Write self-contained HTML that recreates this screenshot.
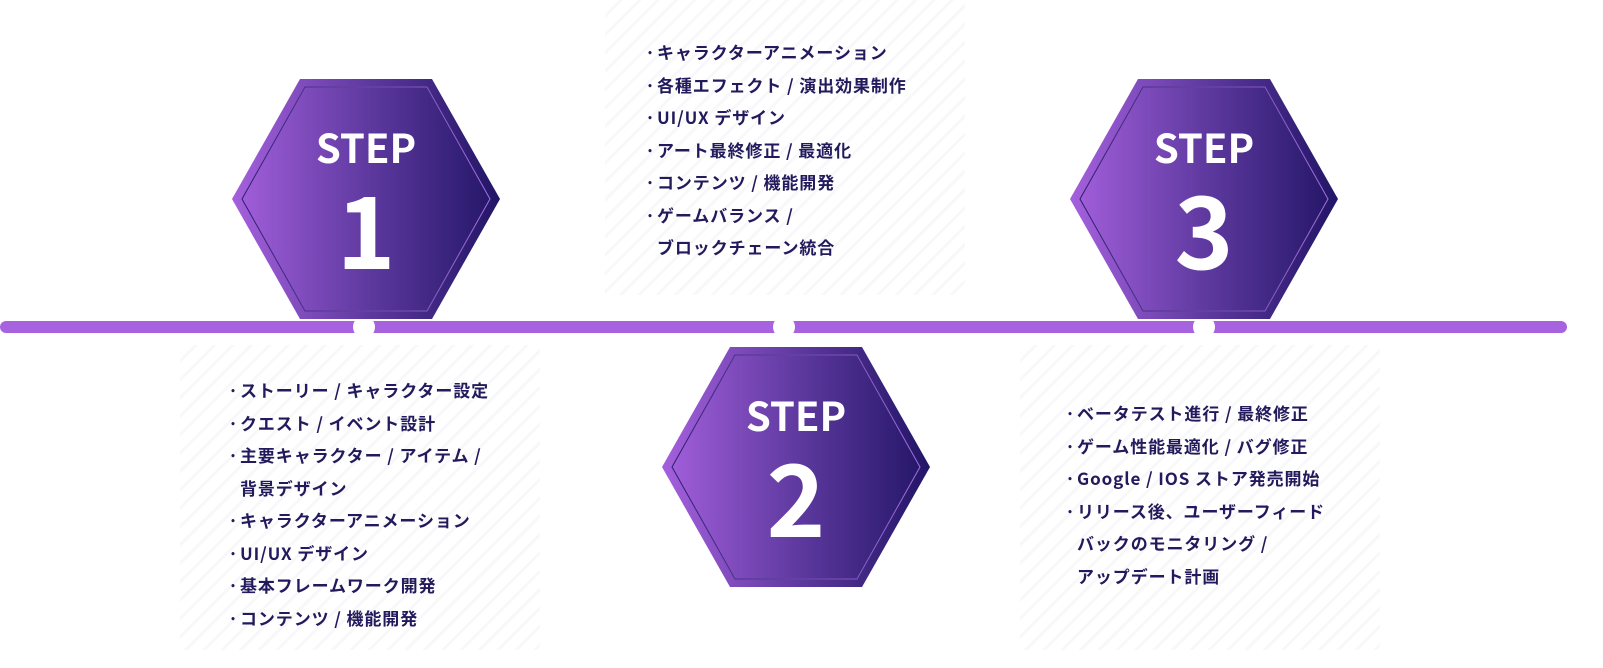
<!DOCTYPE html>
<html><head><meta charset="utf-8"><style>
body{margin:0;width:1603px;height:668px;background:#fff;position:relative;overflow:hidden;font-family:"Noto Sans CJK JP","Liberation Sans",sans-serif}
.pat{position:absolute;background:repeating-linear-gradient(135deg,#fff 0 10px,#f8f8fa 10px 13px)}
.bar{position:absolute;left:0;top:321px;width:1567px;height:12px;border-radius:6px;background:#a763df}
.dot{position:absolute;top:316px;width:22px;height:22px;border-radius:50%;background:#fff}
svg.hex{position:absolute;width:272px;height:242px}
.lbl{position:absolute;width:272px;text-align:center;color:#fff;font-weight:bold}
.step{font-size:40px;line-height:40px}
.num{font-size:100px;line-height:100px;margin-top:10px}
.txt{position:absolute;color:#221a5c;font-weight:bold;font-size:17px;letter-spacing:0.9px;line-height:32.5px;white-space:nowrap}
.txt div{padding-left:12px;text-indent:-12px}
.b{display:inline-block;width:12px;text-indent:0;letter-spacing:0}
</style></head><body>
<div class="pat" style="left:605px;top:0;width:360px;height:295px"></div>
<div class="pat" style="left:180px;top:345px;width:360px;height:305px"></div>
<div class="pat" style="left:1020px;top:345px;width:360px;height:305px"></div>
<svg width="0" height="0" style="position:absolute"><defs>
<linearGradient id="g" x1="0" x2="1" y1="0" y2="0"><stop offset="0" stop-color="#a560dd"/><stop offset="0.5" stop-color="#5f3aa0"/><stop offset="1" stop-color="#221566"/></linearGradient>
<linearGradient id="s" x1="0" x2="1"><stop offset="0" stop-color="#2a1b6a"/><stop offset="1" stop-color="#a770e0"/></linearGradient>
</defs></svg>
<div class="bar"></div>
<div class="dot" style="left:353px"></div><div class="dot" style="left:773px"></div><div class="dot" style="left:1193px"></div>

<svg class="hex" style="left:230px;top:78px" viewBox="0 0 272 242"><polygon points="70,1 202,1 270,121 202,241 70,241 2,121" fill="url(#g)"/><polygon points="75,9 197,9 260,121 197,233 75,233 12,121" fill="none" stroke="url(#s)" stroke-width="1"/></svg>
<div class="lbl" style="left:230px;top:126px"><div class="step">STEP</div><div class="num">1</div></div>

<svg class="hex" style="left:660px;top:346px" viewBox="0 0 272 242"><polygon points="70,1 202,1 270,121 202,241 70,241 2,121" fill="url(#g)"/><polygon points="75,9 197,9 260,121 197,233 75,233 12,121" fill="none" stroke="url(#s)" stroke-width="1"/></svg>
<div class="lbl" style="left:660px;top:394px"><div class="step">STEP</div><div class="num">2</div></div>

<svg class="hex" style="left:1068px;top:78px" viewBox="0 0 272 242"><polygon points="70,1 202,1 270,121 202,241 70,241 2,121" fill="url(#g)"/><polygon points="75,9 197,9 260,121 197,233 75,233 12,121" fill="none" stroke="url(#s)" stroke-width="1"/></svg>
<div class="lbl" style="left:1068px;top:126px"><div class="step">STEP</div><div class="num">3</div></div>

<div class="txt" style="left:645px;top:36px">
<div><span class="b">·</span>キャラクターアニメーション</div>
<div><span class="b">·</span>各種エフェクト / 演出効果制作</div>
<div><span class="b">·</span>UI/UX デザイン</div>
<div><span class="b">·</span>アート最終修正 / 最適化</div>
<div><span class="b">·</span>コンテンツ / 機能開発</div>
<div><span class="b">·</span>ゲームバランス /<br>ブロックチェーン統合</div>
</div>
<div class="txt" style="left:228px;top:374px">
<div><span class="b">·</span>ストーリー / キャラクター設定</div>
<div><span class="b">·</span>クエスト / イベント設計</div>
<div><span class="b">·</span>主要キャラクター / アイテム /<br>背景デザイン</div>
<div><span class="b">·</span>キャラクターアニメーション</div>
<div><span class="b">·</span>UI/UX デザイン</div>
<div><span class="b">·</span>基本フレームワーク開発</div>
<div><span class="b">·</span>コンテンツ / 機能開発</div>
</div>
<div class="txt" style="left:1065px;top:397px">
<div><span class="b">·</span>ベータテスト進行 / 最終修正</div>
<div><span class="b">·</span>ゲーム性能最適化 / バグ修正</div>
<div><span class="b">·</span>Google / IOS ストア発売開始</div>
<div><span class="b">·</span>リリース後、ユーザーフィード<br>バックのモニタリング /<br>アップデート計画</div>
</div>
</body></html>
